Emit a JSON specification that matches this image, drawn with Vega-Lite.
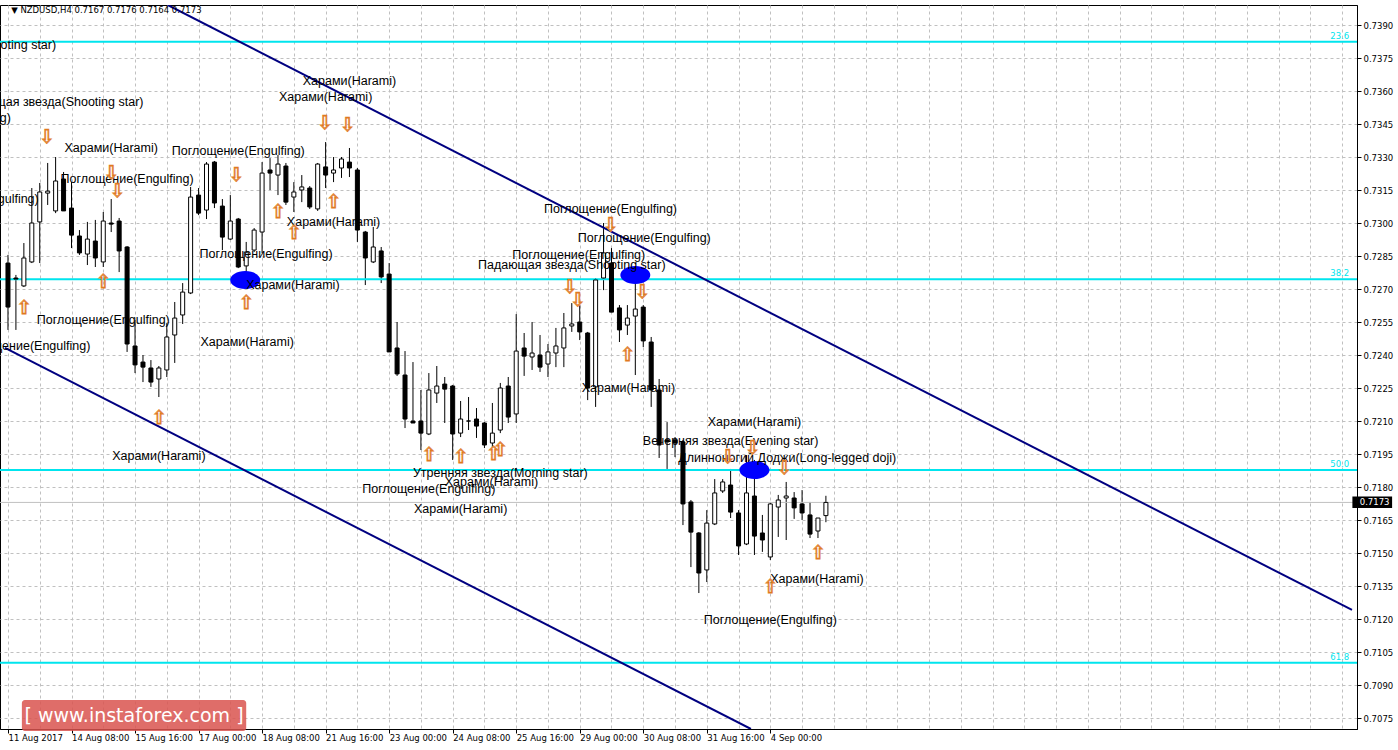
{
"$schema": "https://vega.github.io/schema/vega-lite/v6.json",
"width": 1357, "height": 724,
"autosize": {"type": "none"},
"padding": {"left": 0, "top": 5, "right": 41, "bottom": 21},
"background": "white",
"config": {"view": {"stroke": "black", "strokeWidth": 1},
"axis": {"grid": true, "gridColor": "#c0c0c0", "gridDash": [3, 3], "gridWidth": 1, "domainColor": "black", "labelColor": "black", "labelFont": "DejaVu Sans", "labelFontSize": 8.5, "title": null, "labelOverlap": false, "labelFlush": false}},
"datasets": {
"candles": [
{"i":0,"o":0.72818,"h":0.72855,"l":0.72514,"c":0.72618},
{"i":1,"o":0.72750,"h":0.72764,"l":0.72514,"c":0.72745},
{"i":2,"o":0.72714,"h":0.72909,"l":0.72709,"c":0.72841},
{"i":3,"o":0.72823,"h":0.73159,"l":0.72818,"c":0.73000},
{"i":4,"o":0.73005,"h":0.73182,"l":0.72818,"c":0.73141},
{"i":5,"o":0.73136,"h":0.73273,"l":0.73082,"c":0.73145},
{"i":6,"o":0.73055,"h":0.73300,"l":0.73045,"c":0.73191},
{"i":7,"o":0.73200,"h":0.73232,"l":0.73055,"c":0.73055},
{"i":8,"o":0.73068,"h":0.73186,"l":0.72886,"c":0.72945},
{"i":9,"o":0.72941,"h":0.72968,"l":0.72855,"c":0.72864},
{"i":10,"o":0.72859,"h":0.73005,"l":0.72809,"c":0.72927},
{"i":11,"o":0.72918,"h":0.73014,"l":0.72800,"c":0.72841},
{"i":12,"o":0.72823,"h":0.73050,"l":0.72800,"c":0.73009},
{"i":13,"o":0.73000,"h":0.73109,"l":0.72959,"c":0.72995},
{"i":14,"o":0.73009,"h":0.73023,"l":0.72777,"c":0.72873},
{"i":15,"o":0.72891,"h":0.72895,"l":0.72414,"c":0.72450},
{"i":16,"o":0.72441,"h":0.72559,"l":0.72318,"c":0.72355},
{"i":17,"o":0.72368,"h":0.72400,"l":0.72277,"c":0.72345},
{"i":18,"o":0.72341,"h":0.72377,"l":0.72255,"c":0.72277},
{"i":19,"o":0.72291,"h":0.72350,"l":0.72209,"c":0.72341},
{"i":20,"o":0.72332,"h":0.72545,"l":0.72300,"c":0.72482},
{"i":21,"o":0.72491,"h":0.72641,"l":0.72364,"c":0.72568},
{"i":22,"o":0.72582,"h":0.72727,"l":0.72541,"c":0.72686},
{"i":23,"o":0.72682,"h":0.73164,"l":0.72677,"c":0.73118},
{"i":24,"o":0.73127,"h":0.73159,"l":0.73036,"c":0.73045},
{"i":25,"o":0.73059,"h":0.73277,"l":0.73018,"c":0.73268},
{"i":26,"o":0.73277,"h":0.73282,"l":0.73068,"c":0.73091},
{"i":27,"o":0.73077,"h":0.73109,"l":0.72877,"c":0.72936},
{"i":28,"o":0.72927,"h":0.73127,"l":0.72923,"c":0.73009},
{"i":29,"o":0.73018,"h":0.73023,"l":0.72795,"c":0.72800},
{"i":30,"o":0.72805,"h":0.72914,"l":0.72718,"c":0.72868},
{"i":31,"o":0.72877,"h":0.72977,"l":0.72868,"c":0.72968},
{"i":32,"o":0.72959,"h":0.73277,"l":0.72864,"c":0.73227},
{"i":33,"o":0.73241,"h":0.73295,"l":0.73150,"c":0.73227},
{"i":34,"o":0.73218,"h":0.73309,"l":0.73127,"c":0.73268},
{"i":35,"o":0.73259,"h":0.73273,"l":0.73082,"c":0.73095},
{"i":36,"o":0.73118,"h":0.73186,"l":0.73050,"c":0.73141},
{"i":37,"o":0.73150,"h":0.73218,"l":0.73095,"c":0.73164},
{"i":38,"o":0.73159,"h":0.73168,"l":0.73064,"c":0.73073},
{"i":39,"o":0.73064,"h":0.73273,"l":0.73055,"c":0.73268},
{"i":40,"o":0.73255,"h":0.73368,"l":0.73159,"c":0.73218},
{"i":41,"o":0.73227,"h":0.73300,"l":0.73186,"c":0.73241},
{"i":42,"o":0.73250,"h":0.73300,"l":0.73205,"c":0.73291},
{"i":43,"o":0.73277,"h":0.73341,"l":0.73209,"c":0.73250},
{"i":44,"o":0.73241,"h":0.73250,"l":0.72914,"c":0.72968},
{"i":45,"o":0.72959,"h":0.72964,"l":0.72718,"c":0.72841},
{"i":46,"o":0.72823,"h":0.72982,"l":0.72818,"c":0.72891},
{"i":47,"o":0.72873,"h":0.72891,"l":0.72727,"c":0.72755},
{"i":48,"o":0.72768,"h":0.72818,"l":0.72414,"c":0.72414},
{"i":49,"o":0.72432,"h":0.72550,"l":0.72305,"c":0.72314},
{"i":50,"o":0.72309,"h":0.72418,"l":0.72068,"c":0.72109},
{"i":51,"o":0.72100,"h":0.72368,"l":0.72091,"c":0.72091},
{"i":52,"o":0.72100,"h":0.72241,"l":0.71968,"c":0.72045},
{"i":53,"o":0.72041,"h":0.72318,"l":0.72036,"c":0.72241},
{"i":54,"o":0.72227,"h":0.72350,"l":0.72182,"c":0.72259},
{"i":55,"o":0.72268,"h":0.72300,"l":0.72091,"c":0.72245},
{"i":56,"o":0.72259,"h":0.72264,"l":0.71923,"c":0.72041},
{"i":57,"o":0.72045,"h":0.72191,"l":0.72027,"c":0.72109},
{"i":58,"o":0.72100,"h":0.72209,"l":0.72059,"c":0.72100},
{"i":59,"o":0.72109,"h":0.72159,"l":0.72023,"c":0.72077},
{"i":60,"o":0.72091,"h":0.72095,"l":0.71977,"c":0.71991},
{"i":61,"o":0.72000,"h":0.72182,"l":0.71982,"c":0.72045},
{"i":62,"o":0.72059,"h":0.72273,"l":0.72045,"c":0.72250},
{"i":63,"o":0.72259,"h":0.72300,"l":0.72091,"c":0.72118},
{"i":64,"o":0.72132,"h":0.72586,"l":0.72091,"c":0.72418},
{"i":65,"o":0.72432,"h":0.72500,"l":0.72305,"c":0.72395},
{"i":66,"o":0.72391,"h":0.72550,"l":0.72332,"c":0.72409},
{"i":67,"o":0.72400,"h":0.72491,"l":0.72323,"c":0.72345},
{"i":68,"o":0.72359,"h":0.72450,"l":0.72300,"c":0.72414},
{"i":69,"o":0.72409,"h":0.72523,"l":0.72345,"c":0.72441},
{"i":70,"o":0.72432,"h":0.72591,"l":0.72345,"c":0.72523},
{"i":71,"o":0.72532,"h":0.72636,"l":0.72505,"c":0.72541},
{"i":72,"o":0.72550,"h":0.72627,"l":0.72468,"c":0.72505},
{"i":73,"o":0.72500,"h":0.72505,"l":0.72195,"c":0.72250},
{"i":74,"o":0.72255,"h":0.72750,"l":0.72164,"c":0.72741},
{"i":75,"o":0.72750,"h":0.73000,"l":0.72695,"c":0.72864},
{"i":76,"o":0.72818,"h":0.72886,"l":0.72595,"c":0.72595},
{"i":77,"o":0.72614,"h":0.72627,"l":0.72459,"c":0.72514},
{"i":78,"o":0.72536,"h":0.72627,"l":0.72491,"c":0.72568},
{"i":79,"o":0.72577,"h":0.72727,"l":0.72309,"c":0.72609},
{"i":80,"o":0.72618,"h":0.72627,"l":0.72436,"c":0.72464},
{"i":81,"o":0.72459,"h":0.72482,"l":0.72164,"c":0.72241},
{"i":82,"o":0.72241,"h":0.72291,"l":0.71932,"c":0.71991},
{"i":83,"o":0.72014,"h":0.72095,"l":0.71882,"c":0.72005},
{"i":84,"o":0.72014,"h":0.72027,"l":0.71936,"c":0.72000},
{"i":85,"o":0.72005,"h":0.72014,"l":0.71627,"c":0.71723},
{"i":86,"o":0.71732,"h":0.71741,"l":0.71436,"c":0.71595},
{"i":87,"o":0.71591,"h":0.71595,"l":0.71318,"c":0.71409},
{"i":88,"o":0.71423,"h":0.71695,"l":0.71368,"c":0.71636},
{"i":89,"o":0.71632,"h":0.71836,"l":0.71627,"c":0.71773},
{"i":90,"o":0.71782,"h":0.71836,"l":0.71773,"c":0.71823},
{"i":91,"o":0.71809,"h":0.71882,"l":0.71659,"c":0.71686},
{"i":92,"o":0.71682,"h":0.71695,"l":0.71491,"c":0.71532},
{"i":93,"o":0.71541,"h":0.71945,"l":0.71536,"c":0.71773},
{"i":94,"o":0.71759,"h":0.71923,"l":0.71491,"c":0.71577},
{"i":95,"o":0.71591,"h":0.71673,"l":0.71505,"c":0.71559},
{"i":96,"o":0.71482,"h":0.71732,"l":0.71468,"c":0.71723},
{"i":97,"o":0.71709,"h":0.71764,"l":0.71573,"c":0.71741},
{"i":98,"o":0.71750,"h":0.71823,"l":0.71559,"c":0.71759},
{"i":99,"o":0.71750,"h":0.71777,"l":0.71655,"c":0.71705},
{"i":100,"o":0.71723,"h":0.71786,"l":0.71650,"c":0.71682},
{"i":101,"o":0.71673,"h":0.71732,"l":0.71568,"c":0.71586},
{"i":102,"o":0.71600,"h":0.71659,"l":0.71568,"c":0.71659},
{"i":103,"o":0.71670,"h":0.71760,"l":0.71640,"c":0.71730}
],
"fib": [
{"p":0.73824,"lab":"23.6"},
{"p":0.72744,"lab":"38.2"},
{"p":0.71877,"lab":"50.0"},
{"p":0.71001,"lab":"61.8"}
],
"channel": [
{"g":"upper","i":20.125,"p":0.73991},
{"g":"upper","i":169.25,"p":0.71241},
{"g":"lower","i":-0.375,"p":0.72432},
{"g":"lower","i":93.56,"p":0.7070}
],
"ovals": [
{"i":29.875,"p":0.72741},
{"i":79,"p":0.72764},
{"i":94,"p":0.71877}
],
"labels": [
{"i":-5.75,"p":0.73809,"t":"Падающая звезда(Shooting star)"},
{"i":43,"p":0.73645,"t":"Харами(Harami)"},
{"i":40,"p":0.73573,"t":"Харами(Harami)"},
{"i":5.25,"p":0.73550,"t":"Падающая звезда(Shooting star)"},
{"i":-8,"p":0.73477,"t":"Поглощение(Engulfing)"},
{"i":13,"p":0.73341,"t":"Харами(Harami)"},
{"i":29,"p":0.73327,"t":"Поглощение(Engulfing)"},
{"i":15,"p":0.73200,"t":"Поглощение(Engulfing)"},
{"i":-4.5,"p":0.73109,"t":"Поглощение(Engulfing)"},
{"i":41,"p":0.73005,"t":"Харами(Harami)"},
{"i":75.875,"p":0.73064,"t":"Поглощение(Engulfing)"},
{"i":80.125,"p":0.72932,"t":"Поглощение(Engulfing)"},
{"i":32.5,"p":0.72859,"t":"Поглощение(Engulfing)"},
{"i":71.875,"p":0.72855,"t":"Поглощение(Engulfing)"},
{"i":71,"p":0.72809,"t":"Падающая звезда(Shooting star)"},
{"i":35.875,"p":0.72718,"t":"Харами(Harami)"},
{"i":12,"p":0.72559,"t":"Поглощение(Engulfing)"},
{"i":30.125,"p":0.72459,"t":"Харами(Harami)"},
{"i":2,"p":0.72441,"t":"Поглощение(Engulfing)"},
{"i":78.125,"p":0.72250,"t":"Харами(Harami)"},
{"i":94,"p":0.72095,"t":"Харами(Harami)"},
{"i":91,"p":0.72009,"t":"Вечерняя звезда(Evening star)"},
{"i":98.125,"p":0.71932,"t":"Длинноногий Доджи(Long-legged doji)"},
{"i":19,"p":0.71941,"t":"Харами(Harami)"},
{"i":62,"p":0.71864,"t":"Утренняя звезда(Morning star)"},
{"i":60.875,"p":0.71823,"t":"Харами(Harami)"},
{"i":53,"p":0.71791,"t":"Поглощение(Engulfing)"},
{"i":57,"p":0.71700,"t":"Харами(Harami)"},
{"i":101.875,"p":0.71382,"t":"Харами(Harami)"},
{"i":96,"p":0.71195,"t":"Поглощение(Engulfing)"}
],
"arrows": [
{"i":4.875,"p":0.73391,"d":"down"},
{"i":13,"p":0.73227,"d":"down"},
{"i":13.75,"p":0.73145,"d":"down"},
{"i":28.75,"p":0.73218,"d":"down"},
{"i":39.875,"p":0.73455,"d":"down"},
{"i":42.75,"p":0.73445,"d":"down"},
{"i":70.75,"p":0.72709,"d":"down"},
{"i":71.75,"p":0.72650,"d":"down"},
{"i":75.875,"p":0.72991,"d":"down"},
{"i":79.875,"p":0.72686,"d":"down"},
{"i":90.625,"p":0.71936,"d":"down"},
{"i":93.75,"p":0.71977,"d":"down"},
{"i":97.75,"p":0.71886,"d":"down"},
{"i":2,"p":0.72614,"d":"up"},
{"i":12,"p":0.72732,"d":"up"},
{"i":19,"p":0.72114,"d":"up"},
{"i":30,"p":0.72636,"d":"up"},
{"i":34,"p":0.73050,"d":"up"},
{"i":36,"p":0.72955,"d":"up"},
{"i":41,"p":0.73095,"d":"up"},
{"i":53,"p":0.71945,"d":"up"},
{"i":57,"p":0.71936,"d":"up"},
{"i":61.125,"p":0.71950,"d":"up"},
{"i":62,"p":0.71968,"d":"up"},
{"i":78,"p":0.72400,"d":"up"},
{"i":102,"p":0.71500,"d":"up"},
{"i":96,"p":0.71345,"d":"up"}
],
"header": [
{"i":0.4,"p":0.73968,"t":"▼ NZDUSD,H4  0.7167 0.7176 0.7164 0.7173"}
],
"watermark": [
{"i":1.75,"i2":30,"p":0.70832,"p2":0.70691,"ic":15.875,"pc":0.70757,"t":"[  www.instaforex.com  ]"}
],
"last": [
{"i":169.3,"i2":174.3,"p":0.71757,"p2":0.71705,"ic":172.1,"pc":0.71731,"t":"0.7173","v":0.7173}
]
},
"layer": [
{
"data": {"name": "candles"},
"mark": {"type": "rule", "color": "black", "strokeWidth": 1},
"encoding": {
"x": {"field": "i", "type": "quantitative", "title": null,
"scale": {"domain": [-0.375, 169.25], "nice": false, "zero": false},
"axis": {"orient": "bottom", "tickCount": 100, "values": [0,4,8,12,16,20,24,28,32,36,40,44,48,52,56,60,64,68,72,76,80,84,88,92,96,100,104,108,112,116,120,124,128,132,136,140,144,148,152,156,160,164,168],
"labelExpr": "(datum.value % 8 == 0 && datum.value <= 96) ? ['11 Aug 2017','14 Aug 08:00','15 Aug 16:00','17 Aug 00:00','18 Aug 08:00','21 Aug 16:00','23 Aug 00:00','24 Aug 08:00','25 Aug 16:00','29 Aug 00:00','30 Aug 08:00','31 Aug 16:00','4 Sep 00:00'][datum.value / 8] : ''",
"labelAlign": "left", "labelBaseline": "top",
"labelPadding": 0, "labelOverlap": false, "labelFlush": false, "tickSize": 4,
"tickColor": {"condition": {"test": "datum.value % 8 == 0 && datum.value <= 96", "value": "black"}, "value": "transparent"}}},
"y": {"field": "l", "type": "quantitative", "title": null,
"scale": {"domain": [0.7070, 0.73991], "nice": false, "zero": false},
"axis": {"orient": "right", "tickCount": 100, "values": [0.7075,0.7090,0.7105,0.7120,0.7135,0.7150,0.7165,0.7180,0.7195,0.7210,0.7225,0.7240,0.7255,0.7270,0.7285,0.7300,0.7315,0.7330,0.7345,0.7360,0.7375,0.7390],
"format": ".4f", "labelPadding": 2, "tickSize": 4, "tickColor": "black", "labelOverlap": false, "labelFlush": false, "labelBound": false}},
"y2": {"field": "h"}
}
},
{
"data": {"name": "fib"},
"mark": {"type": "rule", "color": "#00E5EE", "strokeWidth": 2},
"encoding": {
"y": {"field": "p", "type": "quantitative", "title": null, "scale": {"domain": [0.7070, 0.73991], "nice": false, "zero": false}}
}
},
{
"data": {"name": "last"},
"mark": {"type": "rule", "color": "#c0c0c0", "strokeWidth": 1},
"encoding": {
"y": {"field": "v", "type": "quantitative", "title": null, "scale": {"domain": [0.7070, 0.73991], "nice": false, "zero": false}}
}
},
{
"data": {"name": "candles"},
"mark": {"type": "bar", "width": 4, "stroke": "black", "strokeWidth": 1},
"encoding": {
"x": {"field": "i", "type": "quantitative", "title": null, "scale": {"domain": [-0.375, 169.25], "nice": false, "zero": false}},
"y": {"field": "o", "type": "quantitative", "title": null, "scale": {"domain": [0.7070, 0.73991], "nice": false, "zero": false}},
"y2": {"field": "c"},
"color": {"condition": {"test": "datum.c >= datum.o", "value": "white"}, "value": "black"}
}
},
{
"data": {"name": "channel"},
"mark": {"type": "line", "color": "#000080", "strokeWidth": 2, "clip": true},
"encoding": {
"x": {"field": "i", "type": "quantitative", "title": null, "scale": {"domain": [-0.375, 169.25], "nice": false, "zero": false}},
"y": {"field": "p", "type": "quantitative", "title": null, "scale": {"domain": [0.7070, 0.73991], "nice": false, "zero": false}},
"detail": {"field": "g"}
}
},
{
"data": {"name": "ovals"},
"mark": {"type": "point", "filled": true, "color": "#0000FF", "opacity": 1, "size": 900, "shape": "M-1,0A1,0.6,0,1,0,1,0A1,0.6,0,1,0,-1,0Z"},
"encoding": {
"x": {"field": "i", "type": "quantitative", "title": null, "scale": {"domain": [-0.375, 169.25], "nice": false, "zero": false}},
"y": {"field": "p", "type": "quantitative", "title": null, "scale": {"domain": [0.7070, 0.73991], "nice": false, "zero": false}}
}
},
{
"data": {"name": "fib"},
"mark": {"type": "text", "color": "#00E5EE", "font": "DejaVu Sans", "fontSize": 8.5, "align": "right", "baseline": "bottom", "dy": -1},
"encoding": {
"x": {"datum": 168.9, "type": "quantitative", "title": null, "scale": {"domain": [-0.375, 169.25], "nice": false, "zero": false}},
"y": {"field": "p", "type": "quantitative", "title": null, "scale": {"domain": [0.7070, 0.73991], "nice": false, "zero": false}},
"text": {"field": "lab"}
}
},
{
"data": {"name": "labels"},
"mark": {"type": "text", "color": "black", "font": "Liberation Sans", "fontSize": 12.5, "align": "center", "baseline": "middle", "clip": true},
"encoding": {
"x": {"field": "i", "type": "quantitative", "title": null, "scale": {"domain": [-0.375, 169.25], "nice": false, "zero": false}},
"y": {"field": "p", "type": "quantitative", "title": null, "scale": {"domain": [0.7070, 0.73991], "nice": false, "zero": false}},
"text": {"field": "t"}
}
},
{
"data": {"name": "arrows"},
"mark": {"type": "text", "font": "DejaVu Sans", "fontSize": 19, "align": "center", "baseline": "middle", "stroke": "#E07A1F", "strokeWidth": 0.8},
"encoding": {
"x": {"field": "i", "type": "quantitative", "title": null, "scale": {"domain": [-0.375, 169.25], "nice": false, "zero": false}},
"y": {"field": "p", "type": "quantitative", "title": null, "scale": {"domain": [0.7070, 0.73991], "nice": false, "zero": false}},
"text": {"condition": {"test": "datum.d == 'up'", "value": "⇧"}, "value": "⇩"},
"color": {"value": "#FFFFFF"}
}
},
{
"data": {"name": "header"},
"mark": {"type": "text", "color": "black", "font": "DejaVu Sans", "fontSize": 8.5, "align": "left", "baseline": "middle"},
"encoding": {
"x": {"field": "i", "type": "quantitative", "title": null, "scale": {"domain": [-0.375, 169.25], "nice": false, "zero": false}},
"y": {"field": "p", "type": "quantitative", "title": null, "scale": {"domain": [0.7070, 0.73991], "nice": false, "zero": false}},
"text": {"field": "t"}
}
},
{
"data": {"name": "watermark"},
"mark": {"type": "rect", "color": "#D9534F", "opacity": 0.85, "cornerRadius": 3},
"encoding": {
"x": {"field": "i", "type": "quantitative", "title": null, "scale": {"domain": [-0.375, 169.25], "nice": false, "zero": false}},
"x2": {"field": "i2"},
"y": {"field": "p", "type": "quantitative", "title": null, "scale": {"domain": [0.7070, 0.73991], "nice": false, "zero": false}},
"y2": {"field": "p2"}
}
},
{
"data": {"name": "watermark"},
"mark": {"type": "text", "color": "white", "font": "DejaVu Sans", "fontSize": 19, "align": "center", "baseline": "middle"},
"encoding": {
"x": {"field": "ic", "type": "quantitative", "title": null, "scale": {"domain": [-0.375, 169.25], "nice": false, "zero": false}},
"y": {"field": "pc", "type": "quantitative", "title": null, "scale": {"domain": [0.7070, 0.73991], "nice": false, "zero": false}},
"text": {"field": "t"}
}
},
{
"data": {"name": "last"},
"mark": {"type": "rect", "color": "black"},
"encoding": {
"x": {"field": "i", "type": "quantitative", "title": null, "scale": {"domain": [-0.375, 169.25], "nice": false, "zero": false}},
"x2": {"field": "i2"},
"y": {"field": "p", "type": "quantitative", "title": null, "scale": {"domain": [0.7070, 0.73991], "nice": false, "zero": false}},
"y2": {"field": "p2"}
}
},
{
"data": {"name": "last"},
"mark": {"type": "text", "color": "white", "font": "DejaVu Sans", "fontSize": 8.5, "align": "center", "baseline": "middle"},
"encoding": {
"x": {"field": "ic", "type": "quantitative", "title": null, "scale": {"domain": [-0.375, 169.25], "nice": false, "zero": false}},
"y": {"field": "pc", "type": "quantitative", "title": null, "scale": {"domain": [0.7070, 0.73991], "nice": false, "zero": false}},
"text": {"field": "t"}
}
}
]
}
